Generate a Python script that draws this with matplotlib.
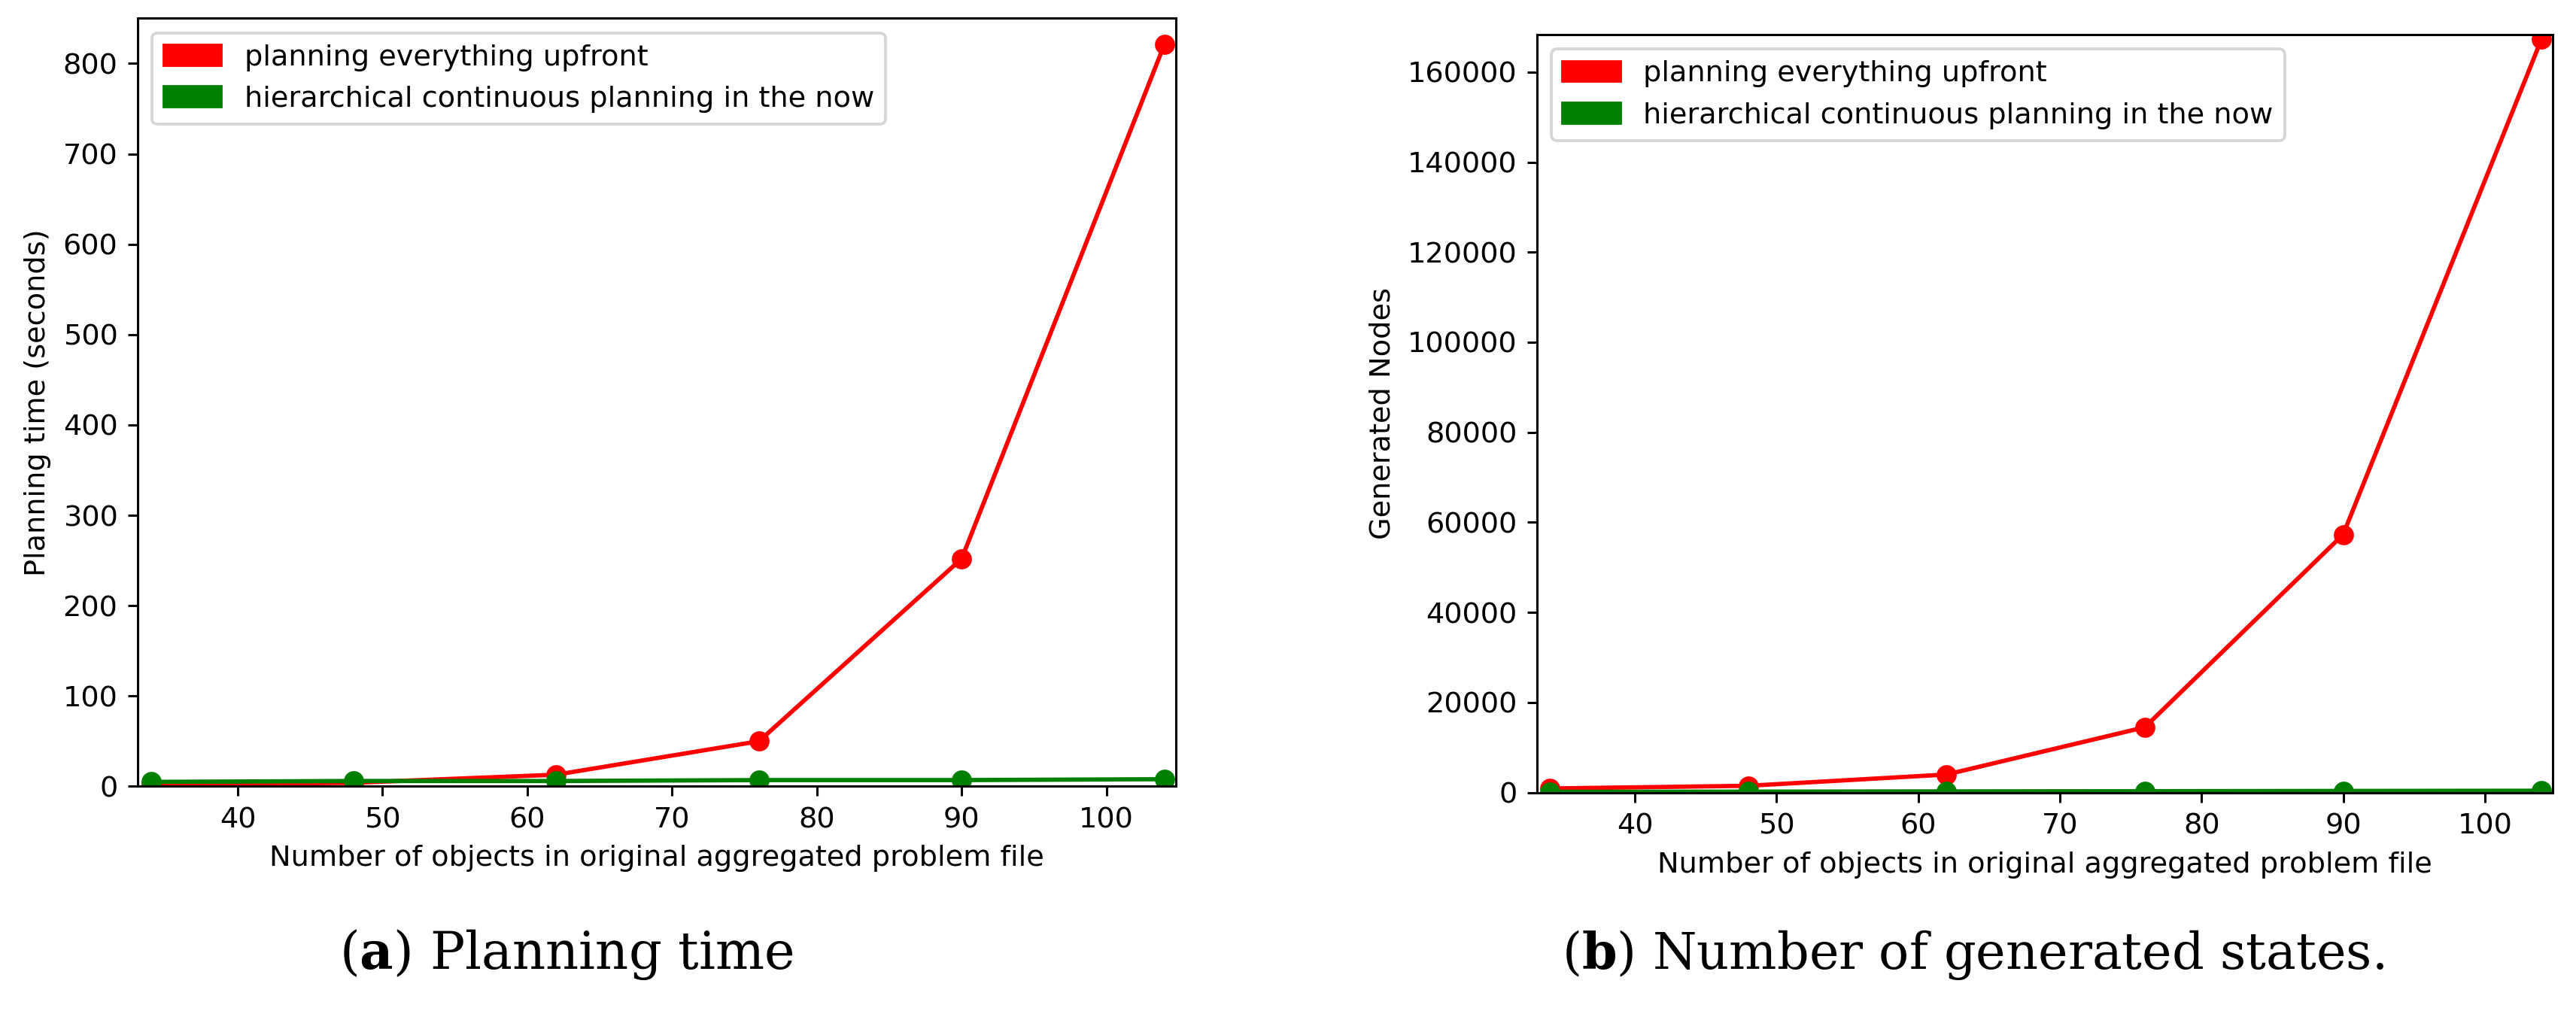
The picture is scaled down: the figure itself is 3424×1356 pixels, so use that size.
import matplotlib
matplotlib.use("Agg")
import matplotlib.pyplot as plt
import matplotlib.patches as mpatches

# data
n_objects = [34, 48, 62, 76, 90, 104]
time_upfront = [2, 4, 13, 50, 252, 821]
time_hcpn = [5, 6, 6, 7, 7, 8]
nodes_upfront = [900, 1500, 4000, 14500, 57300, 167300]
nodes_hcpn = [150, 200, 250, 300, 350, 400]

labels = ["planning everything upfront", "hierarchical continuous planning in the now"]
captions = [r"($\mathbf{a}$) Planning time", r"($\mathbf{b}$) Number of generated states."]

plt.rcParams["mathtext.fontset"] = "dejavuserif"

dpi = 275
fig = plt.figure(figsize=(3424 / dpi, 1356 / dpi), dpi=dpi)

ax1 = fig.add_axes([0.0535, 0.229, 0.4030, 0.753])
ax2 = fig.add_axes([0.5967, 0.223, 0.3943, 0.743])

ax1.plot(n_objects, time_upfront, color="red", marker="o")
ax1.plot(n_objects, time_hcpn, color="green", marker="o")
ax1.set_xlim(33.1, 104.8)
ax1.set_ylim(0, 850)
ax1.set_ylabel("Planning time (seconds)")

ax2.plot(n_objects, nodes_upfront, color="red", marker="o")
ax2.plot(n_objects, nodes_hcpn, color="green", marker="o")
ax2.set_xlim(33.1, 104.8)
ax2.set_ylim(0, 168300)
ax2.set_ylabel("Generated Nodes")

handles = [mpatches.Patch(color="red"), mpatches.Patch(color="green")]
for ax in (ax1, ax2):
    ax.set_xlabel("Number of objects in original aggregated problem file")
    ax.legend(handles, labels, loc="upper left")

fig.text(0.220, 0.064, captions[0], ha="center", va="center",
         family="DejaVu Serif", fontsize=18)
fig.text(0.766, 0.064, captions[1], ha="center", va="center",
         family="DejaVu Serif", fontsize=17.5)

fig.savefig("out.png", dpi=dpi)
